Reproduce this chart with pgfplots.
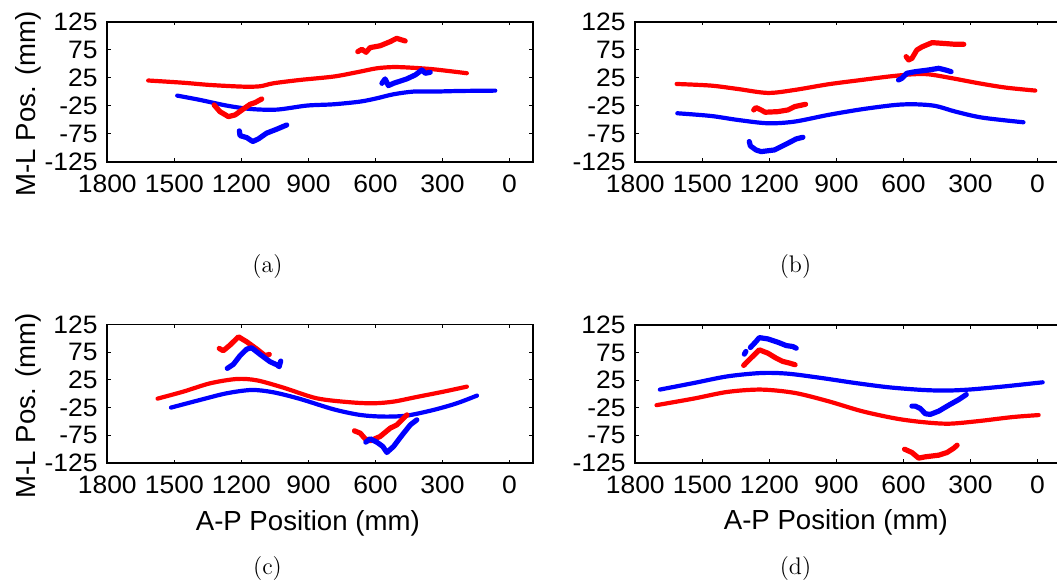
\documentclass[border=0pt]{standalone}
\usepackage{fontspec}
\setsansfont{Liberation Sans}
\usepackage{pgfplots}
\pgfplotsset{compat=1.18}
\pgfplotsset{
 mystyle/.style={
  scale only axis, width=212.85pt, height=70pt,
  x dir=reverse, xmin=-105, xmax=1800, ymin=-125, ymax=125,
  xtick={0,300,600,900,1200,1500,1800}, xticklabels={0,300,600,900,1200,1500,1800},
  ytick={-125,-75,-25,25,75,125}, yticklabels={-125,-75,-25,25,75,125},
  tick align=inside, major tick length=1.8pt,
  every tick/.style={black, line width=0.5pt},
  axis line style={line width=0.9pt},
  ticklabel style={font=\sffamily\fontsize{12.6}{14}\selectfont, xscale=1.05},
  xticklabel style={yshift=-3.1pt},
  yticklabel style={xshift=-1.1pt},
  label style={font=\sffamily\fontsize{13.8}{15}\selectfont},
  ylabel style={at={(axis description cs:-0.1675,0.412)}, anchor=base},
  xlabel style={at={(axis description cs:0.471,-0.484)}, anchor=base},
 },
 lr/.style={red, line width=2.1pt, smooth, line cap=round, line join=round},
 lb/.style={blue, line width=2.1pt, smooth, line cap=round, line join=round},
 fr/.style={red, line width=2.6pt, line cap=round, line join=round},
 fb/.style={blue, line width=2.6pt, line cap=round, line join=round},
}
\begin{document}
\begin{tikzpicture}
\path[use as bounding box] (0,0) rectangle (528.5pt,-294pt);
% (a)
\begin{axis}[mystyle, at={(53.65pt,-10.85pt)}, anchor=north west, ylabel={M-L Pos. (mm)}]
\addplot[lr] coordinates {(1617,20) (1460,16) (1340,12) (1191,9) (1116,9.7) (1057,15) (937,21) (788,27) (683,34.7) (594,41.8) (519,44) (445,43) (340,40) (191,33)};
\addplot[lb] coordinates {(1487,-7) (1385,-14.7) (1266,-24.8) (1161,-30.8) (1042,-32) (907,-24.8) (788,-22.5) (669,-17.7) (594,-11.8) (519,-4.6) (430,0.2) (340,0.2) (221,1.3) (64,1.9)};
\addplot[fr] coordinates {(1322,-23.7) (1296,-35.6) (1258,-44.5) (1228,-41.5) (1191,-30.8) (1161,-22.5) (1139,-19.5) (1109,-13)};
\addplot[fb] coordinates {(1209,-70) (1206,-78.4) (1176,-82) (1149,-89) (1124,-84.3) (1087,-74) (1042,-67) (997,-59.4)};
\addplot[fr] coordinates {(679,71.5) (661,75.7) (642,70.4) (624,78.7) (579,82) (534,89.4) (505,95.3) (482,92.4) (467,90.6)};
\addplot[fb] coordinates {(571,15) (557,22.8) (542,10.9) (519,15) (460,22.8) (422,29.9) (392,38.8) (377,32.9) (355,34.7)};
\end{axis}
% (b)
\begin{axis}[mystyle, at={(317.65pt,-10.85pt)}, anchor=north west]
\addplot[lr] coordinates {(1615,13.8) (1462,10.9) (1342,4.9) (1207,-2.2) (1087,3.1) (937,13.2) (787,21) (667,27) (562,31) (487,31) (382,24) (262,15) (142,7.3) (10,2)};
\addplot[lb] coordinates {(1612,-38.5) (1462,-43.3) (1342,-50.4) (1207,-56.4) (1087,-53.4) (937,-41.5) (787,-31.4) (637,-23.7) (547,-22.5) (457,-25.4) (367,-35.6) (247,-46.3) (63,-54.6)};
\addplot[fr] coordinates {(1270,-32.6) (1260,-28.4) (1237,-32.6) (1219,-36.7) (1162,-35.6) (1117,-32.6) (1087,-26.6) (1038,-22.5)};
\addplot[fb] coordinates {(1290,-89) (1285,-96.8) (1260,-104) (1237,-107) (1177,-104) (1117,-92) (1080,-84.3) (1050,-81.4)};
\addplot[fr] coordinates {(588,62.6) (577,56.7) (562,59.6) (540,74.5) (517,80) (472,87.6) (427,86.4) (367,84.6) (330,84.6)};
\addplot[fb] coordinates {(622,21) (607,23.9) (585,32.9) (547,35.8) (487,38.8) (442,41.8) (412,38.8) (387,35.8)};
\end{axis}
% (c)
\begin{axis}[mystyle, at={(53.65pt,-162.25pt)}, anchor=north west, height=69.3pt, ylabel={M-L Pos. (mm)}, xlabel={A-P Position (mm)}]
\addplot[lr] coordinates {(1575,-8.7) (1460,3.9) (1340,18.9) (1221,26.7) (1131,24.3) (1012,11.1) (863,-8.1) (713,-15.3) (609,-17.1) (519,-14.1) (415,-5.7) (295,3.9) (191,12.9)};
\addplot[lb] coordinates {(1515,-24.9) (1385,-11.1) (1266,0.9) (1154,6.9) (1057,2.7) (937,-9.3) (788,-27.9) (669,-38.1) (564,-41.1) (460,-39.3) (340,-29.1) (236,-17.1) (146,-3.3)};
\addplot[fr] coordinates {(1299,81.8) (1281,77.7) (1251,87.8) (1213,102.8) (1176,93.8) (1131,80.6) (1094,68.7) (1075,71)};
\addplot[fb] coordinates {(1263,45.9) (1236,53.1) (1206,68.7) (1176,80.6) (1154,83) (1116,71) (1072,57.9) (1039,51.9) (1031,48.9) (1024,59)};
\addplot[fr] coordinates {(694,-66.8) (668,-71) (646,-81.2) (624,-84.8) (579,-77) (534,-62) (504,-56) (474,-44) (459,-38)};
\addplot[fb] coordinates {(643,-87.2) (624,-81.2) (594,-87.2) (567,-95) (549,-105.8) (519,-95) (482,-75.2) (444,-56) (415,-47)};
\end{axis}
% (d)
\begin{axis}[mystyle, at={(317.65pt,-162.5pt)}, anchor=north west, height=69pt, xlabel={A-P Position (mm)}]
\addplot[lb] coordinates {(1690,8) (1537,20) (1387,32) (1237,38) (1117,36.8) (967,29) (817,20) (667,12.2) (517,7.4) (412,6.2) (307,8) (157,13.4) (-23,21.2)};
\addplot[lr] coordinates {(1705,-20.2) (1537,-8.2) (1387,3.8) (1237,8) (1087,2) (937,-13) (787,-31) (637,-44.2) (517,-50.8) (397,-53.8) (262,-49) (112,-41.8) (-5,-38.2)};
\addplot[fb] coordinates {(1312,72.2) (1305,77)};
\addplot[fb] coordinates {(1285,84.2) (1260,95) (1245,102.2) (1207,99.8) (1162,93.8) (1125,87.8) (1095,86) (1080,83)};
\addplot[fr] coordinates {(1315,51.8) (1290,62) (1260,74) (1245,80) (1207,74) (1170,65) (1140,59) (1110,56) (1085,53)};
\addplot[fb] coordinates {(562,-22) (547,-22) (525,-26.2) (502,-35.8) (480,-37) (442,-31) (397,-20.2) (352,-10) (319,-1)};
\addplot[fr] coordinates {(595,-100) (562,-106) (532,-116.2) (502,-113.8) (442,-110.8) (405,-106) (375,-98.2) (360,-92.8)};
\end{axis}
\node[anchor=base, font=\fontsize{12}{14}\selectfont] at (133.75pt,-136.5pt) {(a)};
\node[anchor=base, font=\fontsize{12}{14}\selectfont] at (397.75pt,-136.5pt) {(b)};
\node[anchor=base, font=\fontsize{12}{14}\selectfont] at (133.75pt,-287.5pt) {(c)};
\node[anchor=base, font=\fontsize{12}{14}\selectfont] at (397.75pt,-287.5pt) {(d)};
\end{tikzpicture}
\end{document}
